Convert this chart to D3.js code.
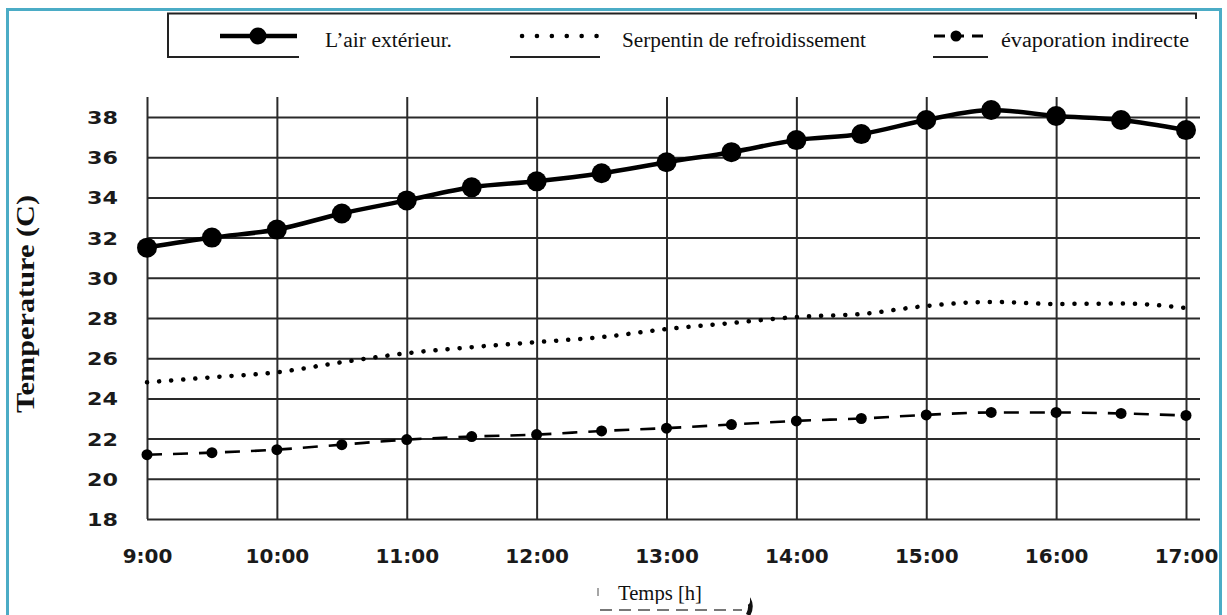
<!DOCTYPE html>
<html>
<head>
<meta charset="utf-8">
<script src="https://cdn.jsdelivr.net/npm/d3@7"></script>
<style>
html,body{margin:0;padding:0;background:#fff;}
svg{display:block;}
</style>
</head>
<body>
<svg id="chart" width="1227" height="615"></svg>
<script>
// ---- data ----
const hours = [9, 9.5, 10, 10.5, 11, 11.5, 12, 12.5, 13, 13.5, 14, 14.5, 15, 15.5, 16, 16.5, 17];
const xTickValues = [9, 10, 11, 12, 13, 14, 15, 16, 17];
const xTickLabels = ["9:00", "10:00", "11:00", "12:00", "13:00", "14:00", "15:00", "16:00", "17:00"];
const yTickValues = [18, 20, 22, 24, 26, 28, 30, 32, 34, 36, 38];
const airExterieur = [31.5, 32.0, 32.4, 33.2, 33.85, 34.5, 34.8, 35.2, 35.75, 36.25, 36.85, 37.15, 37.85, 38.35, 38.05, 37.85, 37.35];
const serpentin = [24.8, 25.05, 25.3, 25.8, 26.25, 26.55, 26.8, 27.05, 27.45, 27.75, 28.05, 28.2, 28.6, 28.8, 28.7, 28.72, 28.5];
const evaporation = [21.2, 21.3, 21.45, 21.7, 21.95, 22.1, 22.2, 22.38, 22.52, 22.7, 22.88, 23.0, 23.18, 23.3, 23.3, 23.25, 23.15];
const legendLabels = ["L\u2019air ext\u00e9rieur.", "Serpentin de refroidissement", "\u00e9vaporation indirecte"];
const yTitle = "Temperature (C)";
const xTitle = "Temps [h]";

const svg = d3.select("#chart");
const x = d3.scaleLinear().domain([9, 17]).range([147, 1186]);
const y = d3.scaleLinear().domain([18, 38]).range([519, 117]);
const gridColor = "#2a2a2a";

// outer teal frame
svg.append("path")
  .attr("d", "M7.5,630 L7.5,9.5 L1220.5,9.5 L1220.5,630")
  .attr("fill", "none").attr("stroke", "#4bacc6").attr("stroke-width", 3);

// horizontal gridlines
const gY = svg.append("g").attr("transform", "translate(147,0)")
  .call(d3.axisLeft(y).tickValues(yTickValues).tickSize(-(1200 - 147)).tickFormat(d => d));
gY.select(".domain").remove();
gY.selectAll(".tick line").attr("stroke", gridColor).attr("stroke-width", 2);
gY.selectAll(".tick text")
  .attr("x", -29).attr("dy", "0.36em")
  .attr("font-family", "DejaVu Sans, Verdana, sans-serif")
  .attr("font-weight", "bold").attr("font-size", 18).attr("fill", "#1a1a1a")
  .attr("textLength", 31).attr("lengthAdjust", "spacingAndGlyphs");

// vertical gridlines
const gX = svg.append("g").attr("transform", "translate(0,519)")
  .call(d3.axisBottom(x).tickValues(xTickValues).tickSize(-(519 - y(39)))
    .tickFormat((d, i) => xTickLabels[i]));
gX.select(".domain").remove();
gX.selectAll(".tick line").attr("stroke", gridColor).attr("stroke-width", 2);
gX.selectAll(".tick text")
  .attr("y", 44).attr("dy", 0)
  .attr("font-family", "DejaVu Sans, Verdana, sans-serif")
  .attr("font-weight", "bold").attr("font-size", 20).attr("fill", "#1a1a1a");

// lines
const pts = vals => vals.map((v, i) => [hours[i], v]);
const line = d3.line().x(d => x(d[0])).y(d => y(d[1])).curve(d3.curveMonotoneX);

svg.append("path").datum(pts(serpentin)).attr("d", line)
  .attr("fill", "none").attr("stroke", "#000").attr("stroke-width", 4.5)
  .attr("stroke-linecap", "round").attr("stroke-dasharray", "0.1 12");

svg.append("path").datum(pts(evaporation)).attr("d", line)
  .attr("fill", "none").attr("stroke", "#000").attr("stroke-width", 2.6)
  .attr("stroke-dasharray", "15 11");
svg.append("g").selectAll("circle").data(pts(evaporation)).join("circle")
  .attr("cx", d => x(d[0])).attr("cy", d => y(d[1])).attr("r", 5.5).attr("fill", "#000");

svg.append("path").datum(pts(airExterieur)).attr("d", line)
  .attr("fill", "none").attr("stroke", "#000").attr("stroke-width", 4.5);
svg.append("g").selectAll("circle").data(pts(airExterieur)).join("circle")
  .attr("cx", d => x(d[0])).attr("cy", d => y(d[1])).attr("r", 10).attr("fill", "#000");

// legend frame
const lg = svg.append("g");
lg.append("path")
  .attr("d", "M168,57 L168,13.5 L1196,13.5 L1196,19")
  .attr("fill", "none").attr("stroke", "#222").attr("stroke-width", 2);
lg.append("line").attr("x1", 167).attr("x2", 299).attr("y1", 57).attr("y2", 57)
  .attr("stroke", "#222").attr("stroke-width", 2);
lg.append("line").attr("x1", 510).attr("x2", 600).attr("y1", 57).attr("y2", 57)
  .attr("stroke", "#222").attr("stroke-width", 2);
lg.append("line").attr("x1", 933).attr("x2", 988).attr("y1", 57).attr("y2", 57)
  .attr("stroke", "#222").attr("stroke-width", 2);

// legend samples
lg.append("line").attr("x1", 220).attr("x2", 297).attr("y1", 36).attr("y2", 36)
  .attr("stroke", "#000").attr("stroke-width", 4.5);
lg.append("circle").attr("cx", 258).attr("cy", 36).attr("r", 8.5).attr("fill", "#000");
lg.append("line").attr("x1", 522).attr("x2", 598).attr("y1", 36).attr("y2", 36)
  .attr("stroke", "#000").attr("stroke-width", 4.5).attr("stroke-linecap", "round")
  .attr("stroke-dasharray", "0.1 14.8");
lg.append("line").attr("x1", 934).attr("x2", 988).attr("y1", 36).attr("y2", 36)
  .attr("stroke", "#000").attr("stroke-width", 3).attr("stroke-dasharray", "11 8");
lg.append("circle").attr("cx", 956).attr("cy", 36).attr("r", 5.5).attr("fill", "#000");

const legX = [325, 622, 1001];
const legW = [127, 244, 188];
lg.selectAll("text.leg").data(legendLabels).join("text")
  .attr("class", "leg")
  .attr("x", (d, i) => legX[i]).attr("y", 47)
  .attr("font-family", "Liberation Serif, Times New Roman, serif")
  .attr("font-size", 20).attr("fill", "#111")
  .attr("textLength", (d, i) => legW[i]).attr("lengthAdjust", "spacingAndGlyphs")
  .text(d => d);

// y title
svg.append("text")
  .attr("transform", "translate(34,304) rotate(-90)")
  .attr("text-anchor", "middle")
  .attr("font-family", "Liberation Serif, Times New Roman, serif")
  .attr("font-weight", "bold").attr("font-size", 25).attr("fill", "#111")
  .attr("textLength", 218).attr("lengthAdjust", "spacingAndGlyphs")
  .text(yTitle);

// x title box with clipped text
const defs = svg.append("defs");
defs.append("clipPath").attr("id", "xtclip")
  .append("rect").attr("x", 598).attr("y", 578).attr("width", 158).attr("height", 26);
svg.append("path").attr("d", "M742,592 Q755,602 748,615")
  .attr("fill", "none").attr("stroke", "#111").attr("stroke-width", 4.5);
svg.append("line").attr("x1", 600).attr("x2", 742).attr("y1", 610).attr("y2", 610)
  .attr("stroke", "#777").attr("stroke-width", 2).attr("stroke-dasharray", "12 7");
svg.append("line").attr("x1", 598).attr("x2", 598).attr("y1", 588).attr("y2", 596)
  .attr("stroke", "#888").attr("stroke-width", 1.5);
svg.append("rect").attr("x", 600).attr("y", 579).attr("width", 150).attr("height", 26)
  .attr("rx", 4).attr("fill", "#fff");
svg.append("text")
  .attr("clip-path", "url(#xtclip)")
  .attr("x", 618).attr("y", 600)
  .attr("font-family", "Liberation Serif, Times New Roman, serif")
  .attr("font-size", 20).attr("fill", "#111")
  .attr("textLength", 84).attr("lengthAdjust", "spacingAndGlyphs")
  .text(xTitle);
</script>
</body>
</html>
